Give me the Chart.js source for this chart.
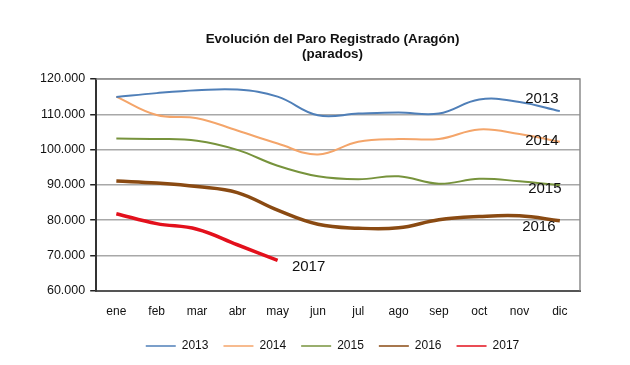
<!DOCTYPE html>
<html lang="es">
<head>
<meta charset="UTF-8">
<title>Paro Registrado Aragón</title>
<script src="https://cdn.jsdelivr.net/npm/chart.js"></script>
<style>
  html, body { margin: 0; padding: 0; background: #fff; }
  #wrap { width: 630px; height: 365px; }
</style>
</head>
<body>
<div id="wrap"><canvas id="paroChart" width="630" height="365"></canvas></div>
<script>
const meses = ["ene", "feb", "mar", "abr", "may", "jun", "jul", "ago", "sep", "oct", "nov", "dic"];
const paro2013 = [114900, 116000, 116800, 117000, 115000, 109700, 110200, 110500, 110200, 114200, 113500, 110900];
const paro2014 = [115000, 109800, 108900, 105400, 101700, 98600, 102200, 103000, 103000, 105700, 104400, 102200];
const paro2015 = [103100, 103000, 102500, 99900, 95400, 92400, 91600, 92400, 90300, 91700, 91000, 89900];
const paro2016 = [91100, 90500, 89500, 87800, 82800, 78800, 77700, 77800, 80100, 81000, 81200, 79800];
const paro2017 = [81800, 79000, 77400, 73000, 68600];
const yTicks = [60000, 70000, 80000, 90000, 100000, 110000, 120000];

// etiquetas de serie junto a la línea (índice del punto y desplazamiento en px)
const serieLabels = [
  { ds: 0, idx: 11, text: "2013", dx: -18, dy: -12 },
  { ds: 1, idx: 11, text: "2014", dx: -18, dy: -1 },
  { ds: 2, idx: 11, text: "2015", dx: -15, dy: 4 },
  { ds: 3, idx: 11, text: "2016", dx: -21, dy: 6 },
  { ds: 4, idx: 4, text: "2017", dx: 31, dy: 7 }
];

const endLabels = {
  id: "endLabels",
  afterDatasetsDraw(chart) {
    const ctx = chart.ctx;
    ctx.save();
    ctx.font = "15px 'Liberation Sans', Arial, sans-serif";
    ctx.fillStyle = "#111";
    ctx.textAlign = "center";
    ctx.textBaseline = "middle";
    serieLabels.forEach(l => {
      const pt = chart.getDatasetMeta(l.ds).data[l.idx];
      if (pt) ctx.fillText(l.text, pt.x + l.dx, pt.y + l.dy);
    });
    ctx.restore();
  }
};

const plotFrame = {
  id: "plotFrame",
  beforeDatasetsDraw(chart) {
    const a = chart.chartArea;
    const ctx = chart.ctx;
    ctx.save();
    ctx.strokeStyle = "#8c8c8c";
    ctx.lineWidth = 1.5;
    ctx.beginPath();
    ctx.moveTo(a.left, a.top);
    ctx.lineTo(a.right, a.top);
    ctx.lineTo(a.right, a.bottom);
    ctx.stroke();
    ctx.restore();
  }
};

const serie = (label, data, color, width) => ({
  label: label,
  data: data,
  borderColor: color,
  backgroundColor: color,
  borderWidth: width,
  pointRadius: 0,
  tension: 0.4,
  fill: false
});

const fuente = "'Liberation Sans', Arial, sans-serif";

new Chart(document.getElementById("paroChart").getContext("2d"), {
  type: "line",
  data: {
    labels: meses,
    datasets: [
      serie("2013", paro2013, "#4f7fb8", 2),
      serie("2014", paro2014, "#f4a56a", 2),
      serie("2015", paro2015, "#77933c", 2),
      serie("2016", paro2016, "#8a4a12", 3.5),
      serie("2017", paro2017, "#e3101c", 3.5)
    ]
  },
  options: {
    responsive: false,
    animation: false,
    layout: { padding: { left: 35, right: 0, top: 32, bottom: 3 } },
    plugins: {
      title: {
        display: true,
        text: ["Evolución del Paro Registrado (Aragón)", "(parados)"],
        color: "#111",
        font: { family: fuente, size: 13.4, weight: "bold", lineHeight: 1.12 },
        padding: { top: 0, bottom: 17 }
      },
      legend: {
        position: "bottom",
        labels: {
          usePointStyle: true,
          pointStyle: "line",
          pointStyleWidth: 30,
          color: "#111",
          boxWidth: 30,
          padding: 15,
          font: { family: fuente, size: 12 },
          generateLabels(chart) {
            return Chart.defaults.plugins.legend.labels.generateLabels(chart).map(l => ({ ...l, lineWidth: 1.5 }));
          }
        }
      },
      tooltip: { enabled: false }
    },
    scales: {
      x: {
        offset: true,
        grid: { display: false },
        border: { color: "#555", width: 2 },
        ticks: { color: "#111", padding: 6, maxRotation: 0, font: { family: fuente, size: 12 } }
      },
      y: {
        min: 60000,
        max: 120000,
        afterBuildTicks(axis) { axis.ticks = yTicks.map(v => ({ value: v })); },
        grid: { color: "#a8a8a8", lineWidth: 1.5, tickColor: "#222", tickLength: 6 },
        border: { color: "#333", width: 2 },
        ticks: {
          color: "#111",
          padding: 5,
          font: { family: fuente, size: 12.5 },
          callback: v => v.toLocaleString("de-DE")
        }
      },
      yDer: {
        position: "right",
        min: 60000,
        max: 120000,
        afterFit(axis) { axis.width = 50; },
        grid: { display: false },
        border: { display: false },
        ticks: { display: false }
      }
    }
  },
  plugins: [plotFrame, endLabels]
});
</script>
</body>
</html>
